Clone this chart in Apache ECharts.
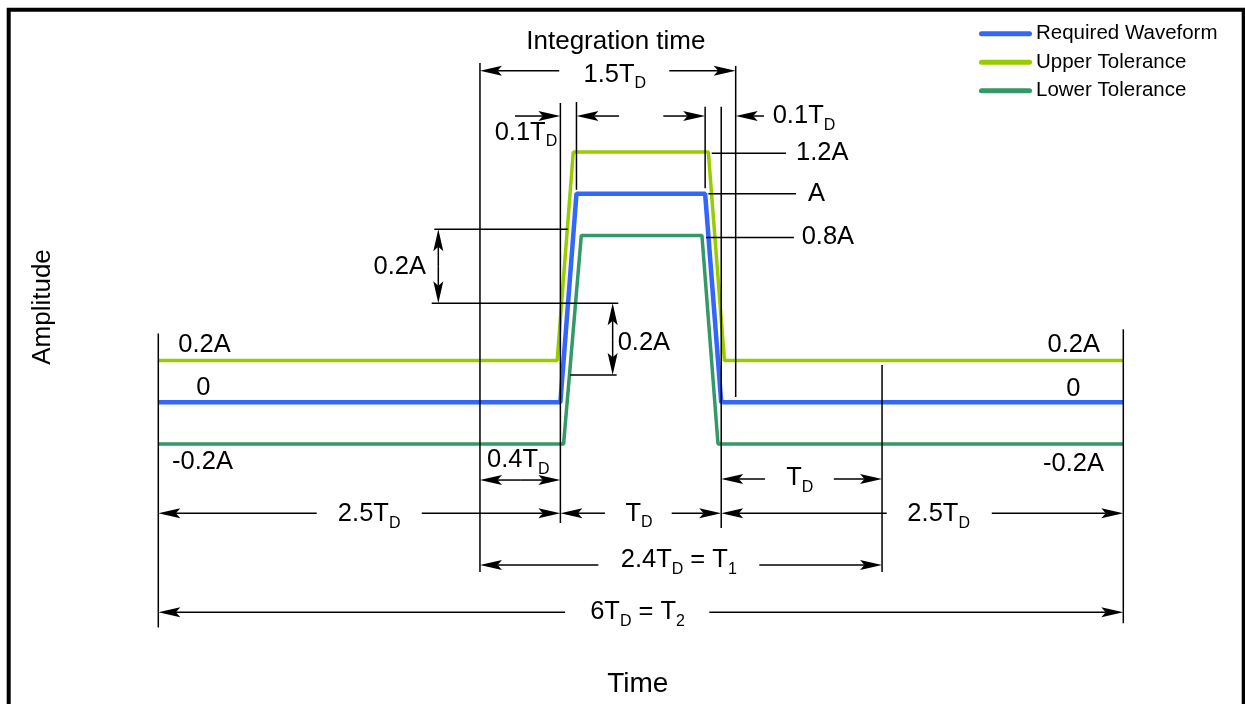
<!DOCTYPE html>
<html>
<head>
<meta charset="utf-8">
<script src="https://cdn.jsdelivr.net/npm/echarts@6/dist/echarts.min.js"></script>
<style>
  html, body { margin: 0; padding: 0; background: #ffffff; }
  #chart { width: 1245px; height: 704px; }
</style>
</head>
<body>
<div id="chart"></div>
<script>
// ---- Waveforms (time in T_D, amplitude in A) ----
const reqT  = [0, 2.5, 2.6, 3.4, 3.5, 6];
const reqA  = [0, 0, 1, 1, 0, 0];
const upT   = [0, 2.48, 2.58, 3.42, 3.52, 6];
const upA   = [0.2, 0.2, 1.2, 1.2, 0.2, 0.2];
const lowT  = [0, 2.52, 2.63, 3.38, 3.48, 6];
const lowA  = [-0.2, -0.2, 0.8, 0.8, -0.2, -0.2];

const seriesNames = ['Required Waveform', 'Upper Tolerance', 'Lower Tolerance'];

// ---- Extension / leader lines: [t1, a1, t2, a2] ----
const extLines = [
  [0, 0.33, 0, -1.08],
  [6, 0.35, 6, -1.06],
  [2.0, 1.627, 2.0, -0.814],
  [3.59, 1.613, 3.59, 0.025],
  [2.5, 1.436, 2.5, -0.579],
  [2.6, 1.44, 2.6, 1.019],
  [3.4, 1.417, 3.4, 1.026],
  [3.5, 1.417, 3.5, -0.603],
  [4.5, 0.179, 4.5, -0.814],
  [1.716, 0.83, 2.546, 0.83],
  [1.70, 0.475, 2.86, 0.475],
  [2.56, 0.131, 2.85, 0.131],
  [3.441, 1.195, 3.903, 1.195],
  [3.42, 1.0, 3.965, 1.0],
  [3.405, 0.79, 3.952, 0.79]
];

// ---- Dimension arrows: [tailT, tailA, tipT, tipA] ----
const arrows = [
  [2.493, 1.59, 2.0, 1.59], [3.177, 1.59, 3.59, 1.59],
  [2.218, 1.373, 2.5, 1.373], [2.865, 1.373, 2.6, 1.373],
  [3.14, 1.373, 3.4, 1.373], [3.766, 1.373, 3.59, 1.373],
  [2.25, -0.373, 2.0, -0.373], [2.25, -0.373, 2.5, -0.373],
  [0.985, -0.532, 0, -0.532], [1.638, -0.532, 2.5, -0.532],
  [2.777, -0.532, 2.5, -0.532], [3.192, -0.532, 3.5, -0.532],
  [4.529, -0.532, 3.5, -0.532], [5.182, -0.532, 6, -0.532],
  [3.772, -0.368, 3.5, -0.368], [4.2, -0.368, 4.5, -0.368],
  [2.736, -0.78, 2.0, -0.78], [3.737, -0.78, 4.5, -0.78],
  [2.529, -1.007, 0, -1.007], [3.426, -1.007, 6, -1.007],
  [1.741, 0.6525, 1.741, 0.83], [1.741, 0.6525, 1.741, 0.475],
  [2.825, 0.303, 2.825, 0.475], [2.825, 0.303, 2.825, 0.131]
];

// ---- Text labels: [t, a, text, align, fontSize] ----
const labels = [
  [2.845, 1.728, 'Integration time', 'center', 26],
  [2.838, 1.57, '1.5T{s|D}', 'center', 25.5],
  [2.286, 1.294, '0.1T{s|D}', 'center', 25.5],
  [3.82, 1.371, '0.1T{s|D}', 'left', 25.5],
  [3.965, 1.198, '1.2A', 'left', 25.5],
  [4.04, 0.999, 'A', 'left', 25.5],
  [4.0, 0.794, '0.8A', 'left', 25.5],
  [1.664, 0.65, '0.2A', 'right', 25.5],
  [2.856, 0.283, '0.2A', 'left', 25.5],
  [0.124, 0.275, '0.2A', 'left', 25.5],
  [0.28, 0.069, '0', 'center', 25.5],
  [0.085, -0.288, '-0.2A', 'left', 25.5],
  [5.855, 0.275, '0.2A', 'right', 25.5],
  [5.689, 0.063, '0', 'center', 25.5],
  [5.88, -0.297, '-0.2A', 'right', 25.5],
  [2.238, -0.279, '0.4T{s|D}', 'center', 25.5],
  [1.311, -0.537, '2.5T{s|D}', 'center', 25.5],
  [2.989, -0.535, 'T{s|D}', 'center', 25.5],
  [4.852, -0.537, '2.5T{s|D}', 'center', 25.5],
  [3.988, -0.365, 'T{s|D}', 'center', 25.5],
  [3.236, -0.757, '2.4T{s|D} = T{s|1}', 'center', 25.5],
  [2.98, -1.008, '6T{s|D} = T{s|2}', 'center', 25.5]
];

const FONT = '"Liberation Sans", Arial, Helvetica, sans-serif';
const colors = ['#3366ff', '#99cc00', '#339966'];
const legendIcon = 'path://M2.5,0 L50.5,0 A2.5,2.5 0 0 1 50.5,5 L2.5,5 A2.5,2.5 0 0 1 2.5,0 Z';

function zip(xs, ys) { return xs.map((x, i) => [x, ys[i]]); }

const chart = echarts.init(document.getElementById('chart'), null, { renderer: 'canvas' });

const option = {
  animation: false,
  backgroundColor: '#ffffff',
  textStyle: { fontFamily: FONT },
  grid: { left: 158.3, width: 965, top: 6.15, height: 601.7, containLabel: false },
  xAxis: {
    type: 'value', min: 0, max: 6,
    axisLine: { show: false }, axisTick: { show: false }, axisLabel: { show: false }, splitLine: { show: false },
    name: 'Time', nameLocation: 'middle', nameGap: 62,
    nameTextStyle: { fontSize: 28, color: '#000', fontFamily: FONT, padding: [0, 6, 0, 0] }
  },
  yAxis: {
    type: 'value', min: -0.986, max: 1.9,
    axisLine: { show: false }, axisTick: { show: false }, axisLabel: { show: false }, splitLine: { show: false },
    name: 'Amplitude', nameLocation: 'middle', nameGap: 102,
    nameTextStyle: { fontSize: 26, color: '#000', fontFamily: FONT }
  },
  legend: {
    orient: 'vertical', left: 979, top: 23.3, padding: 0,
    itemWidth: 53, itemHeight: 5, itemGap: 7.5,
    icon: legendIcon,
    data: seriesNames,
    textStyle: { fontSize: 20.5, color: '#000', fontFamily: FONT, padding: [0, 0, 0, -1] }
  },
  graphic: [{
    type: 'rect', silent: true, z: 200,
    shape: { x: 8.7, y: 9.7, width: 1235, height: 720 },
    style: { fill: 'none', stroke: '#000', lineWidth: 4 }
  }],
  series: [
    { name: seriesNames[0], type: 'line', data: zip(reqT, reqA), symbol: 'none', z: 4,
      lineStyle: { color: colors[0], width: 4.5 }, itemStyle: { color: colors[0] } },
    { name: seriesNames[1], type: 'line', data: zip(upT, upA), symbol: 'none', z: 3,
      lineStyle: { color: colors[1], width: 3.5 }, itemStyle: { color: colors[1] } },
    { name: seriesNames[2], type: 'line', data: zip(lowT, lowA), symbol: 'none', z: 3,
      lineStyle: { color: colors[2], width: 3.5 }, itemStyle: { color: colors[2] } },
    {
      type: 'custom', z: 10, clip: false, silent: true,
      data: extLines.map(e => [e[0], e[1]]),
      renderItem: function (params, api) {
        const e = extLines[params.dataIndex];
        const p1 = api.coord([e[0], e[1]]);
        const p2 = api.coord([e[2], e[3]]);
        return { type: 'line', shape: { x1: p1[0], y1: p1[1], x2: p2[0], y2: p2[1] },
                 style: { stroke: '#000', lineWidth: 1.5 } };
      }
    },
    {
      type: 'custom', z: 11, clip: false, silent: true,
      data: arrows.map(a => [a[0], a[1]]),
      renderItem: function (params, api) {
        const a = arrows[params.dataIndex];
        const p1 = api.coord([a[0], a[1]]);
        const p2 = api.coord([a[2], a[3]]);
        const dx = p2[0] - p1[0], dy = p2[1] - p1[1];
        const len = Math.hypot(dx, dy) || 1;
        const ux = dx / len, uy = dy / len;
        const nx = -uy, ny = ux;
        const L = 22, W = 5, N = 0.8;
        const bx = p2[0] - ux * L, by = p2[1] - uy * L;
        const mx = p2[0] - ux * L * N, my = p2[1] - uy * L * N;
        return {
          type: 'group',
          children: [
            { type: 'line', shape: { x1: p1[0], y1: p1[1], x2: mx, y2: my },
              style: { stroke: '#000', lineWidth: 1.5 } },
            { type: 'polygon',
              shape: { points: [[p2[0], p2[1]], [bx + nx * W, by + ny * W], [mx, my], [bx - nx * W, by - ny * W]] },
              style: { fill: '#000' } }
          ]
        };
      }
    },
    {
      type: 'custom', z: 12, clip: false, silent: true,
      data: labels.map(l => [l[0], l[1]]),
      renderItem: function (params, api) {
        const l = labels[params.dataIndex];
        const p = api.coord([l[0], l[1]]);
        return {
          type: 'text',
          style: {
            text: l[2], x: p[0], y: p[1],
            align: l[3], verticalAlign: 'middle',
            fontSize: l[4], fontFamily: FONT, fill: '#000', lineHeight: 34,
            rich: {
              s: { fontSize: 16, fontFamily: FONT, fill: '#000', lineHeight: 16, verticalAlign: 'bottom' }
            }
          }
        };
      }
    }
  ]
};

chart.setOption(option);
</script>
</body>
</html>
